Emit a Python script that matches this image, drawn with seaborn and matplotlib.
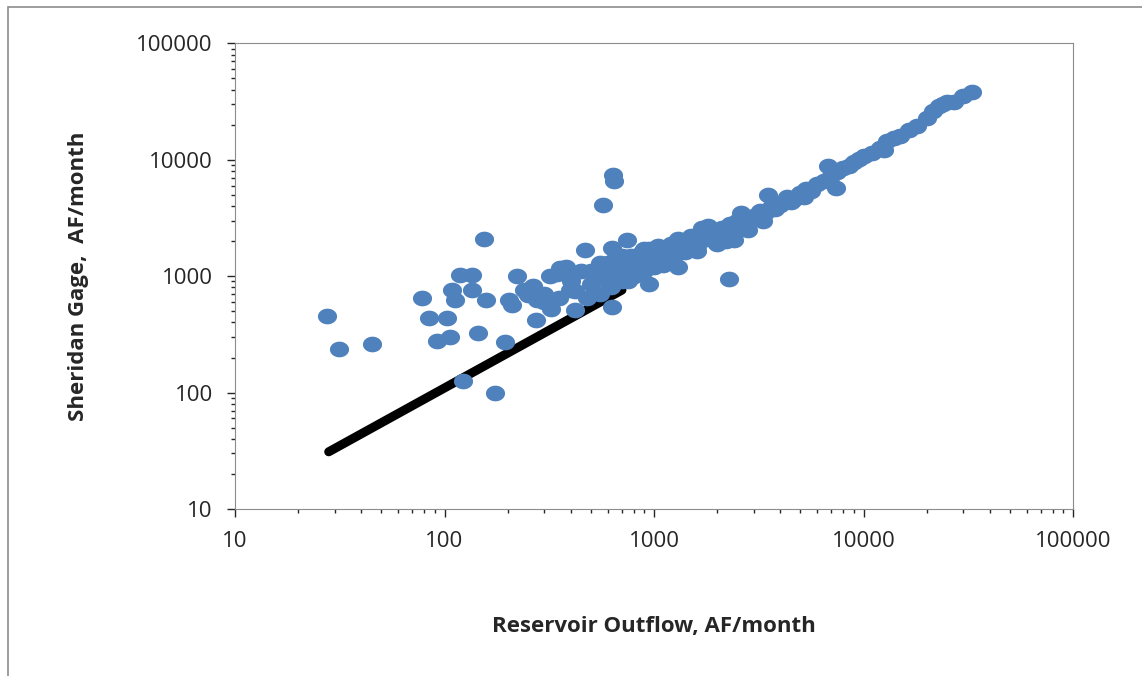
import numpy as np
import seaborn as sns
import matplotlib.pyplot as plt
from matplotlib.patches import Rectangle
from matplotlib.path import Path
from matplotlib.ticker import LogLocator, FixedFormatter, FixedLocator

# scattered low-flow outliers
out_x = [27.5, 31.4, 45, 78, 84, 92, 103, 108, 112, 106, 118, 123, 135, 136, 144, 154, 157,
         175, 194, 203, 222, 239, 265, 272, 277, 322, 356, 398, 420, 571, 630, 637, 645,
         470, 630, 740, 2280, 210, 300, 345, 250]
out_y = [454, 236, 261, 646, 437, 276, 437, 760, 620, 300, 1030, 125, 1030, 760, 325, 2100, 630,
         100, 270, 630, 1000, 760, 830, 420, 630, 520, 1170, 760, 510, 4060, 540, 7370, 6600,
         1670, 1740, 2040, 940, 560, 600, 1050, 690]

# main band of points
band_x = [300, 320, 350, 380, 400, 420, 450, 480, 500, 520, 550, 580, 600, 620, 650, 680,
          700, 720, 750, 780, 800, 830, 850, 880, 900, 930, 950, 980, 1000, 1050, 1100,
          1150, 1200, 1250, 1300, 1350, 1400, 1450, 1500, 1550, 1600, 1700, 1800, 1900,
          2000, 2100, 2200, 2300, 2400, 2500, 2600, 2700, 2800, 3000, 3200, 3400, 3600,
          3800, 4000, 4300, 4600, 5000, 5300, 5600, 6000, 6500, 7000, 7500, 8000, 8500,
          9000, 9500, 10000, 11000, 12000, 13000, 14000, 15000, 16500, 18000, 20000,
          21500, 23000, 25000, 27000, 30000, 33000, 400, 500, 600, 700, 800, 900, 1000,
          1200, 1400, 1600, 1800, 2000, 2400, 2800, 3300, 3800, 4500, 5200, 6800, 7400,
          12500, 24000, 550, 650, 750, 850, 950, 1100, 1300, 1500, 1700, 2200, 2600, 3500]
band_y = [700, 1000, 650, 1200, 900, 750, 1100, 650, 850, 1050, 700, 950, 1150, 800, 1000,
          1300, 900, 1250, 1100, 1500, 1000, 1350, 1200, 1600, 1100, 1400, 1700, 1250,
          1500, 1800, 1400, 1650, 1900, 1500, 2100, 1750, 1600, 2000, 2200, 1900, 1800,
          2300, 2100, 2500, 2200, 2600, 2400, 2800, 2300, 3000, 2700, 3200, 3000, 3300,
          3600, 3500, 3900, 4200, 4100, 4800, 4500, 5200, 5600, 5400, 6200, 6500, 7200,
          7800, 8500, 8800, 9500, 10200, 10800, 11500, 12500, 14500, 15500, 16000, 18000,
          19500, 23000, 26000, 29000, 31000, 31000, 35000, 38000, 1000, 1100, 1300, 1500,
          1150, 1700, 1200, 1350, 2000, 1650, 2700, 1900, 2050, 2500, 3000, 3800, 4300,
          4800, 8800, 5700, 12000, 30000, 1300, 1400, 900, 1500, 850, 1250, 1200, 1700,
          2600, 2000, 3500, 5000]

# reference line (outflow equals gage)
line_x = [28, 703]
line_y = [31, 759]

sns.set_style("white")
plt.rcParams["font.family"] = ["Open Sans", "DejaVu Sans"]

t = np.linspace(0, 2 * np.pi, 40)
ellipse = Path(np.column_stack([np.cos(t), 0.82 * np.sin(t)]))

fig = plt.figure(figsize=(11.42, 6.76), dpi=100)
fig.patches.append(Rectangle((0.007, -0.01), 1.0, 1.0, transform=fig.transFigure,
                             fill=False, edgecolor="#8c8c8c", linewidth=1.2))
ax = fig.add_axes([0.2058, 0.247, 0.7338, 0.689])

ax.plot(line_x, line_y, color="black", linewidth=6.5, solid_capstyle="round", zorder=2)
sns.scatterplot(x=band_x + out_x, y=band_y + out_y, ax=ax, color="#4f81bd",
                s=190, marker=ellipse, edgecolor="#4f81bd", linewidth=0, zorder=3)

ax.set_xscale("log")
ax.set_yscale("log")
ax.set_xlim(10, 100000)
ax.set_ylim(10, 100000)
ticks = [10, 100, 1000, 10000, 100000]
labels = ["10", "100", "1000", "10000", "100000"]
for axis in (ax.xaxis, ax.yaxis):
    axis.set_major_locator(FixedLocator(ticks))
    axis.set_major_formatter(FixedFormatter(labels))
    axis.set_minor_locator(LogLocator(base=10, subs=np.arange(2, 10)))
ax.tick_params(which="major", direction="out", length=6, width=1, labelsize=16, pad=10,
               bottom=True, left=True)
ax.tick_params(which="minor", direction="out", length=3, width=1, bottom=True, left=True)
for sp in ax.spines.values():
    sp.set_color("#8c8c8c")
ax.set_xlabel("Reservoir Outflow, AF/month", fontsize=16, fontweight="bold", labelpad=46)
ax.set_ylabel("Sheridan Gage,  AF/month", fontsize=16, fontweight="bold", labelpad=34)

fig.savefig("out.png", dpi=100)
